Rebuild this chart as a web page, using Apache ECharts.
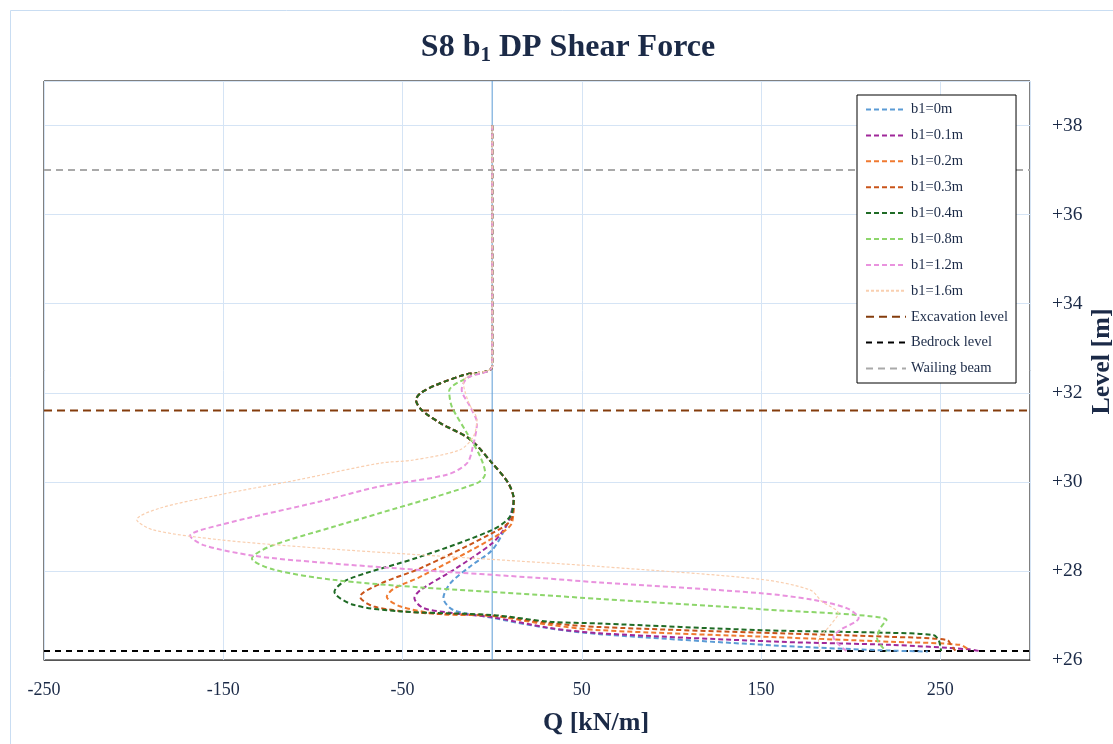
<!DOCTYPE html>
<html>
<head>
<meta charset="utf-8">
<script src="https://cdn.jsdelivr.net/npm/echarts@6/dist/echarts.min.js"></script>
<style>
html,body{margin:0;padding:0;background:#fff;}
#chart{width:1113px;height:744px;}
</style>
</head>
<body>
<div id="chart"></div>
<script>
// ---- Data (Q [kN/m], Level [m]) ----
const seriesNames = ['b1=0m','b1=0.1m','b1=0.2m','b1=0.3m','b1=0.4m','b1=0.8m','b1=1.2m','b1=1.6m'];
const refNames = ['Excavation level','Bedrock level','Wailing beam'];

const b1_0 = [[0,38],[0,32.6],[-16,32.4],[-31,32.18],[-40,31.99],[-42.5,31.84],[-39.5,31.62],[-29,31.32],[-12.5,30.96],[0,30.42],[9,29.97],[12,29.6],[10.5,29.3],[7.8,29.0],[0,28.47],[-12.3,28.1],[-23.4,27.72],[-27.2,27.39],[-21.6,27.12],[-3,26.97],[32,26.71],[60,26.58],[160,26.32],[216,26.22],[243,26.19]];
const b1_01 = [[0,38],[0,32.6],[-16,32.4],[-31,32.18],[-40,31.99],[-42.5,31.84],[-39.5,31.62],[-29,31.32],[-12.5,30.96],[0,30.42],[9,29.97],[12,29.6],[10,29.2],[6.3,28.92],[0,28.62],[-21.6,28.02],[-40,27.57],[-43.4,27.39],[-38.5,27.17],[-23.4,27.06],[0,26.96],[32,26.72],[60,26.6],[160,26.41],[222,26.34],[266,26.24],[272,26.2]];
const b1_02 = [[0,38],[0,32.6],[-16,32.4],[-31,32.18],[-40,31.99],[-42.5,31.84],[-39.5,31.62],[-29,31.32],[-12.5,30.96],[0,30.42],[9,29.97],[12,29.6],[11,29.08],[0,28.73],[-40,27.87],[-55,27.6],[-58.8,27.42],[-51,27.2],[-29,27.03],[0,26.99],[32,26.79],[60,26.67],[160,26.51],[222,26.41],[261,26.34],[266.5,26.21]];
const b1_03 = [[0,38],[0,32.6],[-16,32.4],[-31,32.18],[-40,31.99],[-42.5,31.84],[-39.5,31.62],[-29,31.32],[-12.5,30.96],[0,30.42],[9,29.97],[12,29.6],[10.6,29.15],[0,28.85],[-40,28.06],[-62,27.72],[-73.7,27.42],[-66,27.2],[-40,27.06],[0,27.0],[32,26.83],[60,26.74],[160,26.6],[222,26.52],[253.7,26.45],[256.5,26.3],[258.4,26.21]];
const b1_04 = [[0,38],[0,32.6],[-16,32.4],[-31,32.18],[-40,31.99],[-42.5,31.84],[-39.5,31.62],[-29,31.32],[-12.5,30.96],[0,30.42],[9,29.97],[12,29.62],[10,29.22],[0,28.92],[-40,28.32],[-81,27.8],[-88,27.53],[-77.5,27.24],[-51,27.09],[0,27.01],[32,26.86],[60,26.82],[150,26.67],[222,26.61],[246,26.56],[249,26.45],[250,26.3],[250.4,26.2]];
const b1_08 = [[0,38],[0,32.6],[-12.3,32.37],[-24,32.04],[-22.5,31.69],[-14,31.09],[-6.7,30.57],[-3.9,30.19],[-8.5,29.97],[-62.5,29.3],[-88.6,28.99],[-124,28.55],[-134,28.28],[-122,28.03],[-88.6,27.8],[-40,27.63],[26.8,27.46],[60,27.37],[150,27.14],[220,26.9],[216.5,26.71],[214.7,26.49],[220,26.19]];
const b1_12 = [[0,38],[0,32.6],[-14,32.33],[-17,32.07],[-12.3,31.69],[-8.5,31.32],[-10.8,30.79],[-14,30.42],[-25.3,30.16],[-62.5,29.9],[-96,29.56],[-152,29.03],[-168.5,28.79],[-161,28.58],[-133,28.34],[-96,28.19],[-40,28.02],[26.8,27.84],[60,27.74],[150,27.5],[179,27.35],[198,27.16],[204.4,26.94],[194,26.67],[190.3,26.52],[198,26.19]];
const b1_16 = [[0,38],[0,32.6],[-13,32.4],[-16,32.22],[-13,31.77],[-8.5,31.39],[-10.5,31.02],[-17.9,30.72],[-44,30.49],[-62.5,30.42],[-109,30.04],[-152,29.71],[-185.3,29.41],[-198.3,29.15],[-189,28.92],[-152,28.7],[-96,28.51],[-40,28.36],[26.8,28.19],[60,28.1],[150,27.81],[177.5,27.57],[184,27.31],[193,27.05],[188,26.75],[182,26.45],[183,26.2]];

const excavationLevel = 31.6;
const bedrockLevel = 26.2;
const wailingBeamLevel = 37;

const xMin = -250, xMax = 300, xStep = 100;
const yMin = 26, yMax = 39, yStep = 2;

// ---- Styles ----
const seriesData = [b1_0, b1_01, b1_02, b1_03, b1_04, b1_08, b1_12, b1_16];
const colors = ['#5B9BD5','#A0289A','#F07A30','#C9541A','#1F6B25','#8DD66B','#E992DE','#F9CFB0'];
const widths = [2,2,2,2,2,2,2,1.2];
const dashes = [[5,3],[5,3],[5,3],[5,3],[5,3],[5,3],[5,3],[3,2]];

const refLevels = [excavationLevel, bedrockLevel, wailingBeamLevel];
const refColors = ['#843C0C','#000000','#A9A9A9'];
const refDash = [[8,5],[6,5],[7,5]];

const textColor = '#1B2A47';
const font = "'Liberation Serif', 'Times New Roman', serif";

const series = [];
// zero line (value axis crossing at Q = 0)
series.push({
  type: 'line', name: '_zero', data: [[0, yMin], [0, yMax]],
  silent: true, z: 1, showSymbol: false, symbol: 'none',
  lineStyle: {color: '#5B9BD5', type: 'solid', width: 1}
});
seriesData.forEach((d, i) => {
  series.push({
    type: 'line', name: seriesNames[i], data: d,
    showSymbol: false, symbol: 'none', smooth: 0.3, z: 3,
    lineStyle: {color: colors[i], width: widths[i], type: dashes[i]},
    itemStyle: {color: colors[i]}
  });
});
refLevels.forEach((lv, i) => {
  series.push({
    type: 'line', name: refNames[i], data: [[xMin, lv], [xMax, lv]],
    showSymbol: false, symbol: 'none', z: 2,
    lineStyle: {color: refColors[i], width: 2, type: refDash[i]},
    itemStyle: {color: refColors[i]}
  });
});

const chart = echarts.init(document.getElementById('chart'), null, {renderer: 'canvas'});
chart.setOption({
  animation: false,
  backgroundColor: '#fff',
  graphic: [{
    type: 'rect', shape: {x: 10.5, y: 10.5, width: 1300, height: 1000},
    style: {fill: 'none', stroke: '#C9DDF2', lineWidth: 1}, silent: true, z: -10
  }],
  title: {
    text: '{a|S8 b}{s|1}{a| DP Shear Force}',
    left: 563, top: 24, textAlign: 'center',
    textStyle: {
      rich: {
        a: {fontFamily: font, fontWeight: 'bold', fontSize: 32, color: textColor, lineHeight: 38},
        s: {fontFamily: font, fontWeight: 'bold', fontSize: 21, color: textColor, lineHeight: 38, padding: [16, 0, 0, 0]}
      }
    }
  },
  legend: {
    orient: 'vertical', left: 857, top: 95,
    data: seriesNames.concat(refNames),
    backgroundColor: '#fff', borderColor: '#000', borderWidth: 1,
    padding: [7, 8, 7, 8],
    itemWidth: 40, itemHeight: 13, itemGap: 10.9,
    itemStyle: {opacity: 0},
    textStyle: {fontFamily: font, fontSize: 14.5, color: textColor}
  },
  grid: {
    left: 44, top: 81, width: 986, height: 579,
    containLabel: false, outerBoundsMode: 'none',
    show: true, borderColor: '#000', borderWidth: 1, backgroundColor: 'transparent'
  },
  xAxis: {
    type: 'value', min: xMin, max: xMax, interval: xStep,
    name: 'Q [kN/m]', nameLocation: 'middle', nameGap: 50, nameMoveOverlap: false,
    nameTextStyle: {fontFamily: font, fontWeight: 'bold', fontSize: 26, color: textColor, padding: [0, 0, 0, 118]},
    axisLine: {show: true, onZero: false, lineStyle: {color: '#555', width: 1}},
    axisTick: {show: false},
    axisLabel: {showMaxLabel: false, margin: 21, fontFamily: font, fontSize: 18, color: textColor},
    splitLine: {show: true, lineStyle: {color: '#D5E4F5', width: 1}}
  },
  yAxis: {
    type: 'value', min: yMin, max: yMax, interval: yStep, position: 'right',
    name: 'Level [m]', nameLocation: 'middle', nameGap: 59, nameRotate: 90, nameMoveOverlap: false,
    nameTextStyle: {fontFamily: font, fontWeight: 'bold', fontSize: 26, color: textColor, padding: [0, 0, 0, 18]},
    axisLine: {show: false, onZero: false},
    axisTick: {show: false},
    axisLabel: {showMaxLabel: false, margin: 22, fontFamily: font, fontSize: 19.5, color: textColor,
      formatter: v => (v > 0 ? '+' : '') + v},
    splitLine: {show: true, lineStyle: {color: '#D5E4F5', width: 1}}
  },
  series: series
});
</script>
</body>
</html>
